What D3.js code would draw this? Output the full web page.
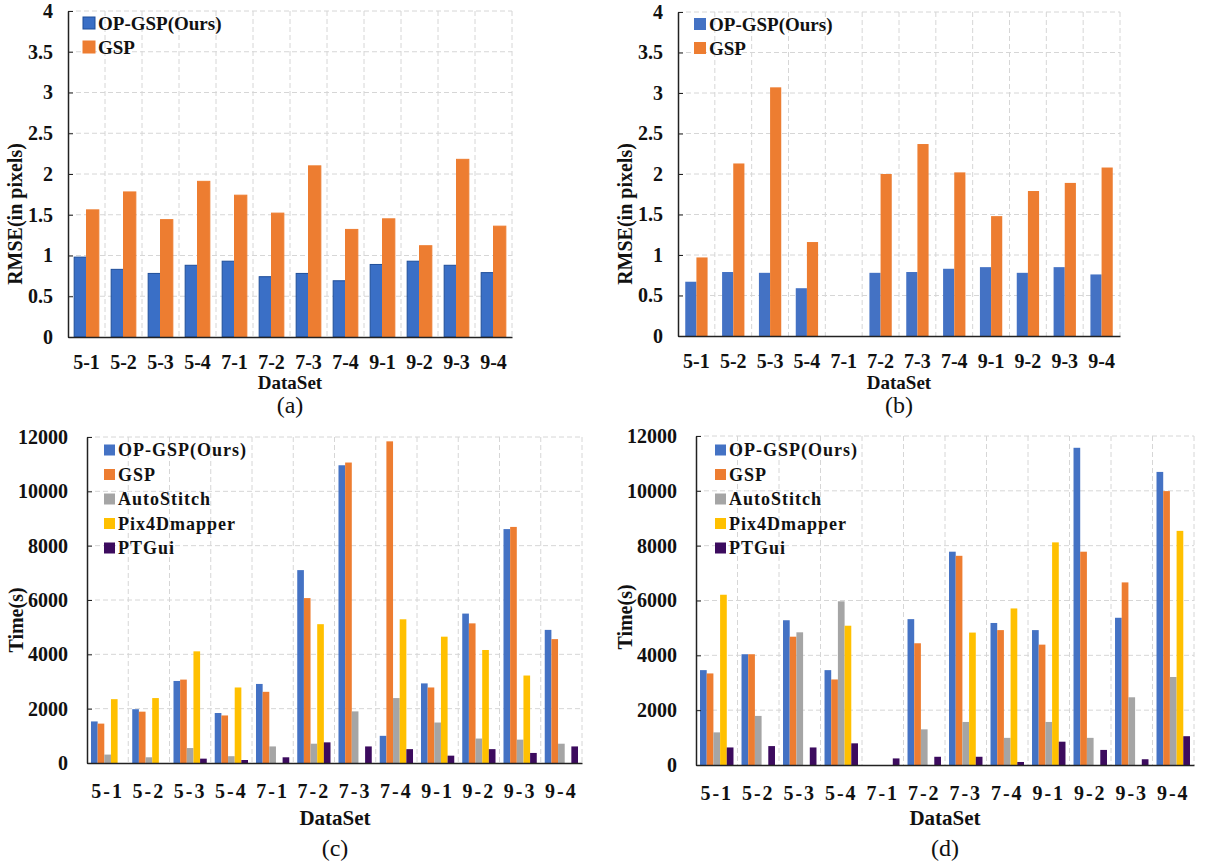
<!DOCTYPE html>
<html>
<head>
<meta charset="utf-8">
<script src="https://cdn.jsdelivr.net/npm/d3@7"></script>
<style>
  body { margin: 0; background: #fff; }
  svg { display: block; }
  text { font-family: "Liberation Serif", "Times New Roman", Times, serif; }
</style>
</head>
<body>
<svg id="chart" width="1221" height="866"></svg>
<script>
// categories shared by all four panels
var datasets = ['5-1', '5-2', '5-3', '5-4', '7-1', '7-2', '7-3', '7-4', '9-1', '9-2', '9-3', '9-4'];

// (a) RMSE
var rmseA_op  = [0.98, 0.83, 0.78, 0.88, 0.93, 0.74, 0.78, 0.69, 0.89, 0.93, 0.88, 0.79];
var rmseA_gsp = [1.56, 1.78, 1.44, 1.91, 1.74, 1.52, 2.10, 1.32, 1.45, 1.12, 2.18, 1.36];

// (b) RMSE (7-1 has no result)
var rmseB_op  = [0.67, 0.79, 0.78, 0.59, 0, 0.78, 0.79, 0.83, 0.85, 0.78, 0.85, 0.76];
var rmseB_gsp = [0.97, 2.13, 3.07, 1.16, 0, 2.00, 2.37, 2.02, 1.48, 1.79, 1.89, 2.08];

// (c) Time
var timeC_op   = [1530, 1980, 3020, 1840, 2910, 7100, 10960, 1000, 2930, 5500, 8610, 4900];
var timeC_gsp  = [1450, 1890, 3070, 1750, 2620, 6070, 11060, 11840, 2780, 5140, 8690, 4560];
var timeC_auto = [310, 210, 550, 250, 610, 710, 1900, 2390, 1490, 900, 860, 710];
var timeC_pix  = [2350, 2390, 4110, 2780, 0, 5110, 0, 5290, 4650, 4160, 3220, 0];
var timeC_ptg  = [0, 0, 160, 110, 210, 760, 610, 510, 270, 510, 370, 610];

// (d) Time
var timeD_op   = [3460, 4040, 5280, 3460, 0, 5320, 7780, 5180, 4920, 11570, 5370, 10690];
var timeD_gsp  = [3340, 4040, 4680, 3120, 0, 4440, 7630, 4920, 4390, 7780, 6660, 9990];
var timeD_auto = [1190, 1790, 4840, 5970, 0, 1300, 1570, 990, 1570, 990, 2470, 3210];
var timeD_pix  = [6210, 0, 0, 5080, 0, 0, 4830, 5710, 8120, 0, 0, 8540];
var timeD_ptg  = [640, 690, 640, 790, 240, 300, 300, 110, 850, 550, 210, 1050];

var rmseTicks = [0, 0.5, 1, 1.5, 2, 2.5, 3, 3.5, 4];
var timeTicks = [0, 2000, 4000, 6000, 8000, 10000, 12000];

var seriesNames = ['OP-GSP(Ours)', 'GSP', 'AutoStitch', 'Pix4Dmapper', 'PTGui'];
var seriesColors = ['#4472C4', '#ED7D31', '#A5A5A5', '#FFC000', '#3C0B5E'];

var svg = d3.select('#chart');

function drawPanel(p) {
    var g = svg.append('g');
    var x = d3.scaleBand().domain(datasets).range([p.left, p.right]).paddingInner(0).paddingOuter(0);
    var y = d3.scaleLinear().domain([0, p.max]).range([p.bottom, p.top]);
    var inner = d3.scaleBand().domain(d3.range(p.series.length)).range([0, x.bandwidth()])
        .paddingInner(0).paddingOuter(p.outerPad);

    // dashed grid, horizontal at ticks
    g.selectAll('.hgrid').data(p.ticks.slice(1)).enter().append('line')
        .attr('x1', p.left).attr('x2', p.right)
        .attr('y1', function(d) { return y(d); }).attr('y2', function(d) { return y(d); })
        .attr('stroke', '#d6d6d6').attr('stroke-width', 1).attr('stroke-dasharray', '5,3');
    // vertical at category boundaries
    var bounds = datasets.map(function(d) { return x(d) + x.bandwidth(); });
    g.selectAll('.vgrid').data(bounds).enter().append('line')
        .attr('x1', function(d) { return d; }).attr('x2', function(d) { return d; })
        .attr('y1', p.top).attr('y2', p.bottom)
        .attr('stroke', '#d6d6d6').attr('stroke-width', 1).attr('stroke-dasharray', '5,3');

    // bars (zero = no result, nothing drawn)
    p.series.forEach(function(vals, si) {
        var rows = vals.map(function(v, i) { return { cat: datasets[i], value: v }; })
            .filter(function(r) { return r.value > 0; });
        g.selectAll('.bar' + si).data(rows).enter().append('rect')
            .attr('x', function(d) { return x(d.cat) + inner(si); })
            .attr('y', function(d) { return y(d.value); })
            .attr('width', inner.bandwidth())
            .attr('height', function(d) { return p.bottom - y(d.value); })
            .attr('fill', p.colors[si])
            .attr('stroke', p.strokes ? p.strokes[si] : 'none')
            .attr('stroke-width', p.strokes ? 1 : 0);
    });

    // axes, y ticks point inward
    var yAxis = d3.axisLeft(y).tickValues(p.ticks).tickSizeInner(-5).tickSizeOuter(0)
        .tickPadding(p.tickPad).tickFormat(d3.format('~g'));
    var ya = g.append('g').attr('transform', 'translate(' + p.left + ',0)').call(yAxis);
    ya.select('.domain').attr('stroke', '#222').attr('stroke-width', 1.5);
    ya.selectAll('line').attr('stroke', '#222');
    ya.selectAll('text').attr('font-weight', 'bold')
        .attr('font-size', p.fs).attr('fill', '#111');

    var xAxis = d3.axisBottom(x).tickSize(0).tickPadding(p.xPad);
    var xa = g.append('g').attr('transform', 'translate(0,' + p.bottom + ')').call(xAxis);
    xa.select('.domain').attr('stroke', '#222').attr('stroke-width', 1.5);
    xa.selectAll('text').attr('font-weight', 'bold')
        .attr('font-size', p.fs).attr('fill', '#111').attr('letter-spacing', p.ls);

    // titles
    g.append('text').attr('x', p.dsX).attr('y', p.dsY)
        .attr('text-anchor', 'middle').attr('font-weight', 'bold').attr('font-size', p.dsFs)
        .attr('fill', '#111').text('DataSet');
    g.append('text').attr('transform', 'translate(' + p.ytX + ',' + p.ytY + ') rotate(-90)')
        .attr('text-anchor', 'middle').attr('font-weight', 'bold').attr('font-size', p.ytFs)
        .attr('fill', '#111').text(p.yTitle);
    g.append('text').attr('x', p.dsX).attr('y', p.capY)
        .attr('text-anchor', 'middle').attr('font-size', 24).attr('fill', '#111').text(p.caption);

    // legend
    var lg = g.append('g');
    p.series.forEach(function(vals, si) {
        var ly = p.legY + si * p.legStep;
        lg.append('rect').attr('x', p.legX).attr('y', ly - p.legSq / 2)
            .attr('width', p.legSq).attr('height', p.legSq).attr('fill', p.colors[si])
            .attr('stroke', p.strokes ? p.strokes[si] : 'none');
        lg.append('text').attr('x', p.legX + p.legSq + 3).attr('y', ly)
            .attr('dy', '0.35em').attr('font-weight', 'bold').attr('font-size', p.legFs)
            .attr('letter-spacing', p.legLs).attr('fill', '#111').text(seriesNames[si]);
    });
}

var rmseCommon = {
    max: 4, ticks: rmseTicks, fs: 20, tickPad: 15, xPad: 18, ls: 0, dsFs: 19,
    yTitle: 'RMSE(in pixels)', ytFs: 20, legSq: 12, legStep: 24, legFs: 19, legLs: 0
};
var timeCommon = {
    max: 12000, ticks: timeTicks, outerPad: 0.6, fs: 20, tickPad: 19, xPad: 21, ls: 2, dsFs: 21,
    yTitle: 'Time(s)', ytFs: 20, legSq: 11, legStep: 24.5, legFs: 18, legLs: 1
};

drawPanel(Object.assign({}, rmseCommon, {
    left: 68, right: 512, top: 11, bottom: 337, outerPad: 0.5,
    series: [rmseA_op, rmseA_gsp], colors: ['#3A6FC6', '#ED7D31'], strokes: ['#1F4E99', '#ED7D31'],
    dsX: 290, dsY: 389, ytX: 22, ytY: 214, capY: 413, caption: '(a)', legX: 83, legY: 23
}));
drawPanel(Object.assign({}, rmseCommon, {
    left: 678, right: 1120, top: 12, bottom: 336, outerPad: 0.65,
    series: [rmseB_op, rmseB_gsp], colors: seriesColors.slice(0, 2),
    dsX: 899, dsY: 389, ytX: 632, ytY: 214, capY: 413, caption: '(b)', legX: 694, legY: 24
}));
drawPanel(Object.assign({}, timeCommon, {
    left: 87, right: 582, top: 437, bottom: 763,
    series: [timeC_op, timeC_gsp, timeC_auto, timeC_pix, timeC_ptg], colors: seriesColors,
    dsX: 335, dsY: 825, ytX: 23, ytY: 620, capY: 856, caption: '(c)', legX: 104, legY: 450
}));
drawPanel(Object.assign({}, timeCommon, {
    left: 696, right: 1194, top: 436, bottom: 765,
    series: [timeD_op, timeD_gsp, timeD_auto, timeD_pix, timeD_ptg], colors: seriesColors,
    dsX: 945, dsY: 825, ytX: 632, ytY: 617, capY: 856, caption: '(d)', legX: 715, legY: 450
}));
</script>
</body>
</html>
